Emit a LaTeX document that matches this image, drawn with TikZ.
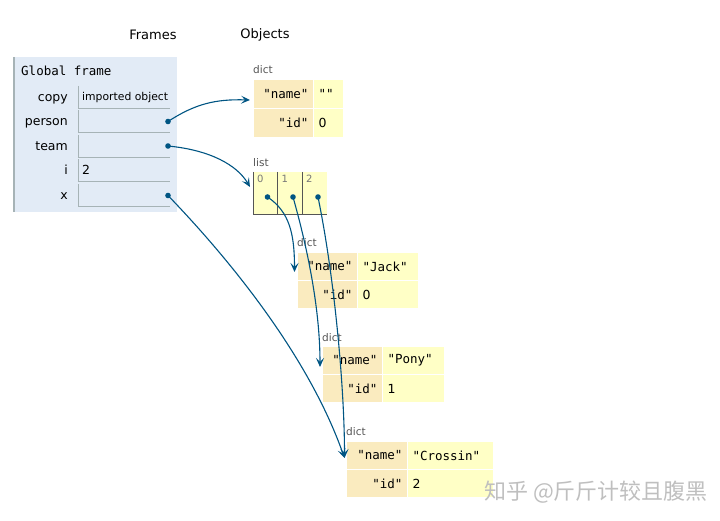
\documentclass[tikz,border=0pt]{standalone}
\usepackage{fontspec}
\setmainfont{DejaVu Sans}
\setmonofont{DejaVu Sans Mono}
\newfontfamily\cjk{Noto Sans CJK SC}
\usetikzlibrary{arrows.meta,calc}
\definecolor{framebg}{HTML}{E2EBF6}
\definecolor{frameline}{HTML}{A6B3B6}
\definecolor{keyc}{HTML}{FAEBBF}
\definecolor{valc}{HTML}{FFFFC6}
\definecolor{arrowc}{HTML}{005583}
\definecolor{lblc}{HTML}{555555}
\definecolor{idxc}{HTML}{777777}
\begin{document}
\begin{tikzpicture}[x=1pt,y=-1pt,
  sansf/.style={font=\fontsize{12.5}{15}\selectfont},
  monof/.style={font=\ttfamily\fontsize{12.5}{15}\selectfont},
  head/.style={font=\fontsize{13}{15}\selectfont, anchor=center, inner sep=0},
  varlbl/.style={sansf, anchor=base east, inner sep=0},
  vbox/.style={anchor=north west, inner sep=0, minimum width=92, minimum height=22},
  vline/.style={draw=frameline, line width=0.8pt},
  objlbl/.style={font=\fontsize{10.5}{12}\selectfont, text=lblc, anchor=west, inner sep=0},
  keycell/.style={anchor=north west, fill=keyc, draw=white, line width=1pt, inner xsep=5, inner ysep=0, align=right, monof},
  valcell/.style={anchor=north west, fill=valc, draw=white, line width=1pt, inner xsep=5, inner ysep=0, align=left},
  listcell/.style={anchor=north west, fill=valc, inner sep=0, minimum width=24.5, minimum height=42},
  listline/.style={draw=lblc, line width=1pt},
  idx/.style={font=\fontsize{10}{12}\selectfont, text=idxc, anchor=north west, inner sep=0},
  ptr/.style={fill=arrowc},
  ref/.style={draw=arrowc, line width=1.1pt, -{Stealth[length=9pt,width=8pt,inset=4pt]}}
]
\useasboundingbox (0,0) rectangle (720,521);

% headings
\node[head] (hframes) at (153,35) {Frames};
\node[head] (hobjects) at (265,35) {Objects};

% global frame
\node[anchor=north west, fill=framebg, inner sep=0, minimum width=163, minimum height=155] (frame) at (14,57) {};
\draw[frameline, line width=1.2pt] (frame.north west) -- (frame.south west);
\node[monof, anchor=west, inner sep=0] (gf) at (21,71) {Global frame};

\node[varlbl] (lcopy) at (68,101.5) {copy};
\node[varlbl] (lperson) at (68,126) {person};
\node[varlbl] (lteam) at (68,150.5) {team};
\node[varlbl] (li) at (68,175) {i};
\node[varlbl] (lx) at (68,200) {x};

\node[vbox] (vcopy) at (78,86) {};
\node[vbox] (vperson) at (78,110.5) {};
\node[vbox] (vteam) at (78,135) {};
\node[vbox] (vi) at (78,159.5) {};
\node[vbox] (vx) at (78,184.5) {};
\foreach \v in {vcopy,vperson,vteam,vi,vx}
  \draw[vline] (\v.north west) -- (\v.south west) -- (\v.south east);
\node[anchor=base west, inner xsep=4, inner ysep=0, font=\fontsize{10.8}{13}\selectfont] (tcopy) at (78,101) {imported object};
\node[anchor=base west, inner xsep=4, inner ysep=0, sansf] (ti) at (78,175) {2};

\coordinate (pperson) at (168,121.5);
\coordinate (pteam) at (168,146);
\coordinate (px) at (168,195.5);

% dict 1
\node[objlbl] (d1lab) at (253,70) {dict};
\node[keycell, text width=50, minimum height=29] (d1k1) at (253,79) {"name"};
\node[valcell, text width=20, minimum height=29, monof] (d1v1) at (313,79) {""};
\node[keycell, text width=50, minimum height=29] (d1k2) at (253,108) {"id"};
\node[valcell, text width=20, minimum height=29, sansf] (d1v2) at (313,108) {0};

% list
\node[objlbl] (llab) at (253,163) {list};
\node[listcell] (l0) at (253,172) {};
\node[listcell] (l1) at (277.5,172) {};
\node[listcell] (l2) at (302,172) {};
\draw[listline] (l0.north west) -- (l0.south west) -- (l2.south east);
\draw[listline] (l1.north west) -- (l1.south west);
\draw[listline] (l2.north west) -- (l2.south west);
\node[idx] (i0) at (257,175) {0};
\node[idx] (i1) at (281.5,175) {1};
\node[idx] (i2) at (306,175) {2};
\coordinate (p0) at (267.5,197);
\coordinate (p1) at (293,197);
\coordinate (p2) at (318,197);

% dict Jack
\node[objlbl] (d2lab) at (297,243) {dict};
\node[keycell, text width=50, minimum height=28] (d2k1) at (297,252) {"name"};
\node[valcell, text width=51, minimum height=28, monof] (d2v1) at (357,252) {"Jack"};
\node[keycell, text width=50, minimum height=28] (d2k2) at (297,280) {"id"};
\node[valcell, text width=51, minimum height=28, sansf] (d2v2) at (357,280) {0};

% dict Pony
\node[objlbl] (d3lab) at (322,338) {dict};
\node[keycell, text width=50, minimum height=28] (d3k1) at (322,346) {"name"};
\node[valcell, text width=52, minimum height=28, monof] (d3v1) at (382,346) {"Pony"};
\node[keycell, text width=50, minimum height=28] (d3k2) at (322,374) {"id"};
\node[valcell, text width=52, minimum height=28, sansf] (d3v2) at (382,374) {1};

% dict Crossin
\node[objlbl] (d4lab) at (346,432) {dict};
\node[keycell, text width=51, minimum height=28] (d4k1) at (346,441) {"name"};
\node[valcell, text width=76, minimum height=28, monof] (d4v1) at (407,441) {"Crossin"};
\node[keycell, text width=51, minimum height=28] (d4k2) at (346,469) {"id"};
\node[valcell, text width=76, minimum height=28, sansf] (d4v2) at (407,469) {2};

% arrow targets
\coordinate (t1) at ($(d1k1.west)+(-3,6)$);
\coordinate (tl) at (250,187);
\coordinate (t2) at (294.5,272);
\coordinate (t3) at (320,367);
\coordinate (t4) at (344.5,458);

% connectors
\draw[ref] (pperson) .. controls (195,104) and (215,99) .. (t1);
\draw[ref] (pteam) .. controls (210,150) and (237,165) .. (tl);
\draw[ref] (px) .. controls (235,265) and (310,360) .. (t4);
\draw[ref] (p0) .. controls (290,212) and (294.5,235) .. (t2);
\draw[ref] (p1) .. controls (308,250) and (320,310) .. (t3);
\draw[ref] (p2) .. controls (335,280) and (344.5,390) .. (t4);
\foreach \p in {pperson,pteam,px,p0,p1,p2}
  \fill[ptr] (\p) circle (2.8);

% watermark
\node[anchor=west, inner sep=0, text=black!25, font=\cjk\fontsize{22}{26}\selectfont] (wm) at (484,492) {知乎 @斤斤计较且腹黑};
\end{tikzpicture}
\end{document}
